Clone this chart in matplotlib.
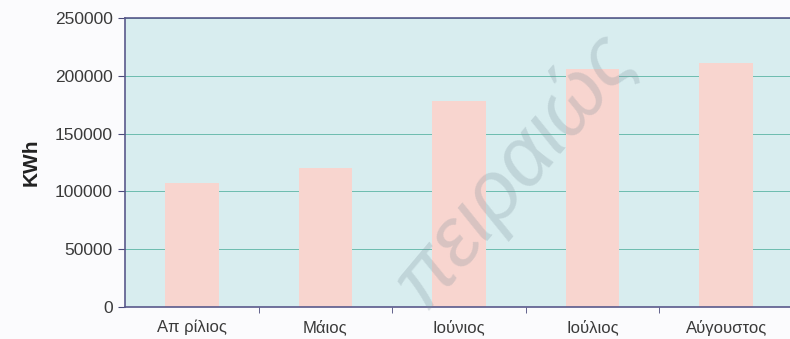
import numpy as np
import matplotlib.pyplot as plt
from matplotlib.ticker import FixedLocator

# monthly energy consumption
months = ["Απ ρίλιος", "Μάιος", "Ιούνιος", "Ιούλιος", "Αύγουστος"]
kwh = [107500, 120000, 178000, 205500, 211500]
yticks = [0, 50000, 100000, 150000, 200000, 250000]

plt.rcParams['font.family'] = ['Liberation Sans', 'DejaVu Sans']

fig = plt.figure(figsize=(7.9, 3.39), dpi=100)
fig.patch.set_facecolor('#fbfbfd')
ax = fig.add_axes([125 / 790, 32 / 339, 668 / 790, 289 / 339])
ax.set_facecolor('#d8edef')

x = np.arange(len(months))
ax.bar(x, kwh, width=0.4, color='#f8d5cf', zorder=2)

ax.set_xlim(-0.5, len(months) - 0.5)
ax.set_ylim(0, 250000)
ax.set_yticks(yticks)
ax.set_yticklabels([str(v) for v in yticks], fontsize=12.5, color='#3a3a3a')
ax.yaxis.grid(True, color='#6cbcae', linewidth=0.7, zorder=1)
ax.set_axisbelow(True)

ax.set_xticks(x)
ax.set_xticklabels(months, fontsize=12, color='#3a3a3a')
ax.tick_params(axis='x', which='major', length=0, pad=9)
ax.xaxis.set_minor_locator(FixedLocator(np.arange(0.5, len(months) - 0.5, 1)))
ax.tick_params(axis='x', which='minor', length=4, color='#4a4a7a', direction='out')
ax.tick_params(axis='y', length=5, color='#4a4a7a', pad=4)

for side in ['left', 'bottom', 'top']:
    ax.spines[side].set_color('#5a5a8c')
    ax.spines[side].set_linewidth(1.2)
ax.spines['right'].set_visible(False)

ax.set_ylabel("KWh", fontsize=15, fontweight='bold', color='#222222', labelpad=10)

# faint watermark across the plot
fig.text(0.65, 0.5, "πειραιώς", fontsize=60, rotation=50, color='#7a8e98',
         alpha=0.25, ha='center', va='center', style='italic', fontweight='light')

plt.savefig("out.png", dpi=100, facecolor=fig.get_facecolor())
